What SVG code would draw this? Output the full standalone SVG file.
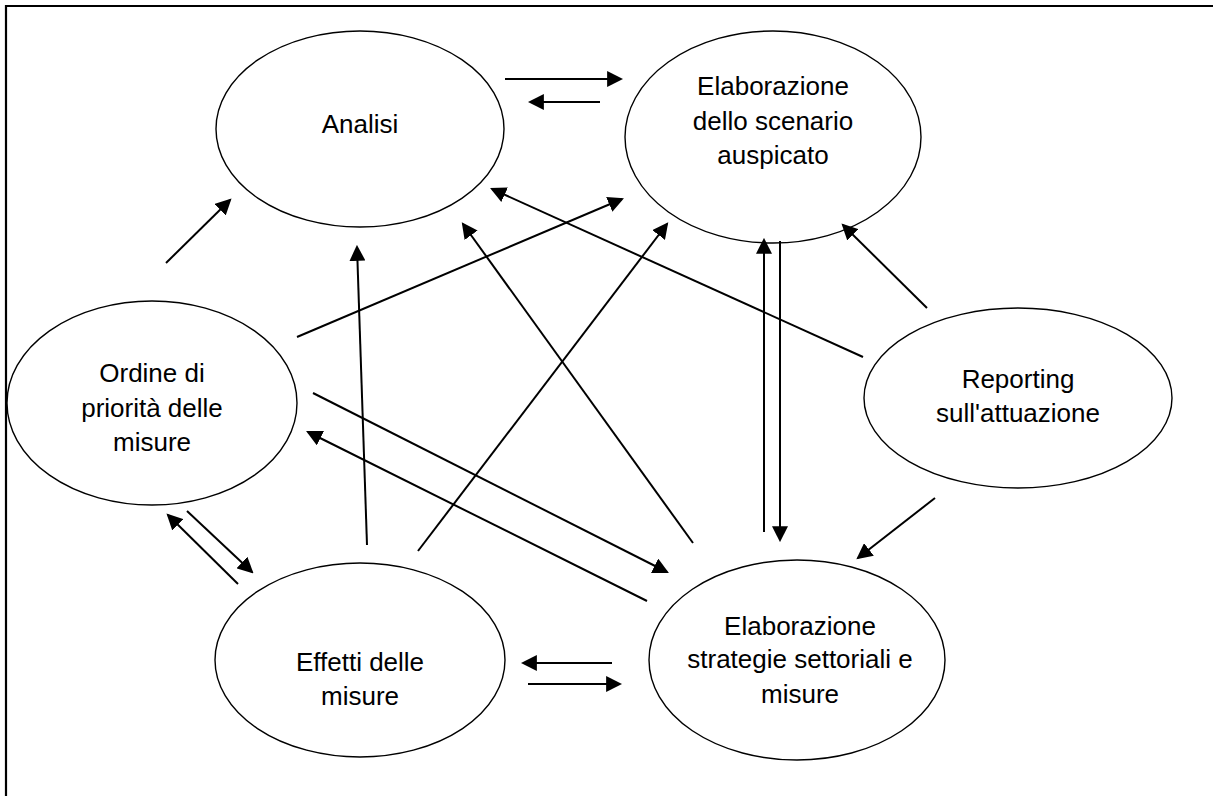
<svg xmlns="http://www.w3.org/2000/svg" width="1213" height="796" viewBox="0 0 1213 796">
<style>
.node ellipse{fill:#fff;stroke:#000;stroke-width:1.4}
.node text{font-family:"Liberation Sans",Arial,sans-serif;font-size:26px;fill:#000;text-anchor:middle}
#connectors line{stroke:#000;stroke-width:2;fill:none;marker-end:url(#ah)}
.frame{stroke:#000;stroke-width:2.2;fill:none}
</style>
<defs>
<marker id="ah" markerUnits="userSpaceOnUse" markerWidth="16" markerHeight="16" viewBox="0 0 15 15" refX="13" refY="7.5" orient="auto">
<path d="M0,0 L15,7.5 L0,15 Z" fill="#000"/>
</marker>
</defs>
<rect width="1213" height="796" fill="#fff"/>
<path class="frame" d="M6,796 V6 H1213"/>
<g id="analisi" class="node">
<ellipse cx="360" cy="129" rx="144" ry="98"/>
<text x="360" y="133">Analisi</text>
</g>
<g id="scenario" class="node">
<ellipse cx="773" cy="137" rx="148" ry="106"/>
<text x="773" y="95">Elaborazione</text>
<text x="773" y="130">dello scenario</text>
<text x="773" y="164">auspicato</text>
</g>
<g id="ordine" class="node">
<ellipse cx="152" cy="403" rx="145" ry="102"/>
<text x="152" y="382">Ordine di</text>
<text x="152" y="417">priorità delle</text>
<text x="152" y="451">misure</text>
</g>
<g id="reporting" class="node">
<ellipse cx="1018" cy="398" rx="154" ry="90"/>
<text x="1018" y="388">Reporting</text>
<text x="1018" y="422">sull'attuazione</text>
</g>
<g id="effetti" class="node">
<ellipse cx="360" cy="660" rx="145" ry="97"/>
<text x="360" y="671">Effetti delle</text>
<text x="360" y="705">misure</text>
</g>
<g id="strategie" class="node">
<ellipse cx="797" cy="660" rx="148" ry="100"/>
<text x="800" y="635">Elaborazione</text>
<text x="800" y="668">strategie settoriali e</text>
<text x="800" y="703">misure</text>
</g>
<g id="connectors">
<line x1="505" y1="79" x2="621" y2="79"/>
<line x1="600" y1="102" x2="530" y2="102"/>
<line x1="166" y1="263" x2="230" y2="200"/>
<line x1="367" y1="545" x2="357" y2="247"/>
<line x1="418" y1="551" x2="667" y2="224"/>
<line x1="297" y1="337" x2="622" y2="199"/>
<line x1="863" y1="357" x2="492" y2="189"/>
<line x1="693" y1="543" x2="463" y2="224"/>
<line x1="780" y1="241" x2="780" y2="540"/>
<line x1="764" y1="532" x2="764" y2="240"/>
<line x1="927" y1="308" x2="843" y2="225"/>
<line x1="935" y1="498" x2="858" y2="558"/>
<line x1="313" y1="393" x2="667" y2="572"/>
<line x1="647" y1="601" x2="308" y2="432"/>
<line x1="187" y1="511" x2="252" y2="572"/>
<line x1="238" y1="584" x2="168" y2="515"/>
<line x1="612" y1="663" x2="523" y2="663"/>
<line x1="528" y1="684" x2="620" y2="684"/>
</g>
</svg>
